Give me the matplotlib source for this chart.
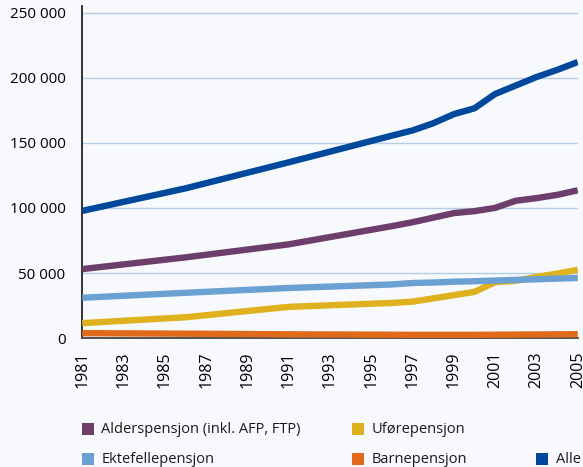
import matplotlib.pyplot as plt
from matplotlib.patches import Rectangle
from matplotlib.ticker import FuncFormatter

# Years with data points (five-year steps first, then yearly)
years = [1981, 1986, 1991, 1996, 1997, 1998, 1999, 2000, 2001, 2002, 2003, 2004, 2005]

alder = [53000, 62000, 72000, 86000, 89000, 92500, 96000, 97500, 100000, 105500, 107500, 110000, 113500]
ufore = [11500, 16000, 24000, 27000, 28000, 30500, 33000, 35500, 43000, 44000, 47000, 49500, 52500]
ektefelle = [31000, 34800, 38500, 41200, 42300, 42700, 43300, 43700, 44200, 44700, 45200, 45700, 46200]
barne = [3800, 3400, 2900, 2600, 2500, 2500, 2500, 2500, 2600, 2700, 2800, 2900, 3000]
alle = [97700, 115000, 135000, 155500, 159500, 165000, 172000, 176500, 187500, 194000, 200500, 206000, 212000]

labels = ["Alderspensjon (inkl. AFP, FTP)", "Uførepensjon", "Ektefellepensjon",
          "Barnepensjon", "Alle"]
colors = ["#6d3d6b", "#dfb11f", "#6aa1d2", "#e0691a", "#00489b"]
series = [alder, ufore, ektefelle, barne, alle]

tick_years = list(range(1981, 2006, 2))
y_ticks = [0, 50000, 100000, 150000, 200000, 250000]

bg = "#f7f9fd"
plt.rcParams["font.family"] = ["Open Sans", "DejaVu Sans"]

fig = plt.figure(figsize=(5.83, 4.67), dpi=100, facecolor=bg)
ax = fig.add_axes([0.141, 0.276, 0.850, 0.711])
ax.set_facecolor(bg)

for vals, col in zip(series, colors):
    ax.plot(years, vals, color=col, linewidth=4.6, solid_capstyle="butt", zorder=3)

ax.set_xlim(1981, 2005)
ax.set_ylim(0, 255000)
ax.set_xticks(tick_years)
ax.set_xticklabels([str(y) for y in tick_years], rotation=90, fontsize=11.5)
ax.set_yticks(y_ticks)
ax.yaxis.set_major_formatter(
    FuncFormatter(lambda v, p: f"{int(v):,}".replace(",", " ")))
ax.tick_params(axis="y", labelsize=11, length=0, pad=12)
ax.tick_params(axis="x", length=0, pad=10)

ax.grid(axis="y", color="#b3cde6", linewidth=1)
ax.set_axisbelow(True)
for s in ["top", "right"]:
    ax.spines[s].set_visible(False)
ax.spines["left"].set_color("#222222")
ax.spines["bottom"].set_color("#444444")
ax.spines["left"].set_linewidth(1.3)
ax.spines["bottom"].set_linewidth(1.3)

# Manual legend: two rows, three slots
slots = [(0.141, 0.068), (0.604, 0.068), (0.141, 0.004), (0.604, 0.004), (0.920, 0.004)]
for (lx, ly), lab, col in zip(slots, labels, colors):
    fig.add_artist(Rectangle((lx, ly), 0.020, 0.026, transform=fig.transFigure,
                             facecolor=col, edgecolor="none"))
    fig.text(lx + 0.033, ly + 0.012, lab, fontsize=10.5, va="center", ha="left",
             color="#1a1a1a")

fig.savefig("out.png", dpi=100, facecolor=bg)
